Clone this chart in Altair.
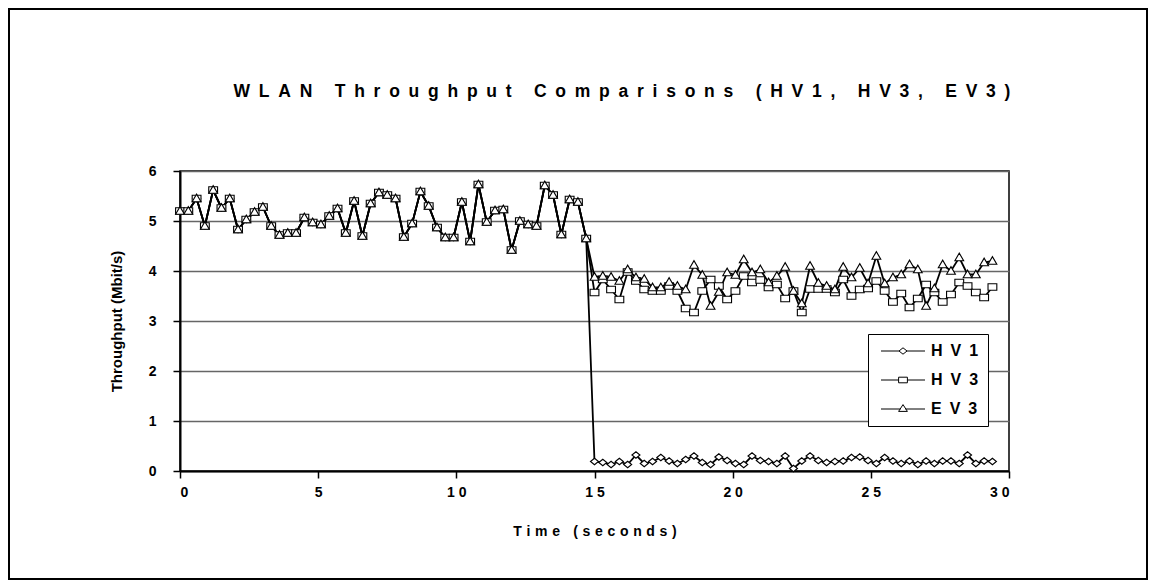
import altair as alt
import pandas as pd

# ---------------- data ----------------
STEP_S = 0.3
SERIES = ["H V 1", "H V 3", "E V 3"]

# first 50 samples (0.0 s .. 14.7 s): the three series coincide
SHARED_FIRST = [5.2, 5.2, 5.45, 4.9, 5.62, 5.26, 5.45, 4.83, 5.03, 5.18,
                5.28, 4.9, 4.72, 4.76, 4.76, 5.07, 4.97, 4.93, 5.1, 5.25,
                4.76, 5.4, 4.7, 5.35, 5.57, 5.52, 5.45, 4.68, 4.95, 5.59,
                5.3, 4.87, 4.67, 4.67, 5.38, 4.59, 5.73, 4.98, 5.21, 5.23,
                4.42, 5.0, 4.93, 4.9, 5.71, 5.52, 4.73, 5.43, 5.38, 4.65]

# samples 15.0 s .. 29.4 s
HV1_TAIL = [0.19, 0.17, 0.13, 0.19, 0.13, 0.32, 0.15, 0.19, 0.27, 0.2,
            0.15, 0.23, 0.3, 0.17, 0.13, 0.28, 0.21, 0.15, 0.13, 0.3,
            0.21, 0.19, 0.15, 0.3, 0.05, 0.2, 0.3, 0.21, 0.17, 0.19,
            0.2, 0.27, 0.28, 0.21, 0.15, 0.27, 0.2, 0.15, 0.2, 0.13,
            0.2, 0.15, 0.2, 0.2, 0.15, 0.32, 0.15, 0.2, 0.19]
HV3_TAIL = [3.57, 3.83, 3.63, 3.43, 3.98, 3.8, 3.63, 3.6, 3.6, 3.7,
            3.6, 3.25, 3.17, 3.6, 3.83, 3.7, 3.43, 3.6, 3.9, 3.77,
            3.82, 3.67, 3.73, 3.45, 3.6, 3.17, 3.64, 3.64, 3.64, 3.57,
            3.83, 3.5, 3.63, 3.65, 3.8, 3.6, 3.38, 3.55, 3.27, 3.45,
            3.73, 3.57, 3.38, 3.53, 3.77, 3.7, 3.57, 3.47, 3.68]
EV3_TAIL = [3.88, 3.9, 3.88, 3.8, 4.03, 3.87, 3.84, 3.67, 3.67, 3.78,
            3.7, 3.63, 4.12, 3.92, 3.3, 3.58, 3.97, 3.92, 4.23, 3.97,
            4.03, 3.77, 3.9, 4.08, 3.6, 3.35, 4.1, 3.76, 3.7, 3.63,
            4.08, 3.87, 4.06, 3.75, 4.3, 3.75, 3.87, 3.93, 4.13, 4.03,
            3.3, 3.65, 4.13, 4.0, 4.27, 3.93, 3.93, 4.17, 4.2]

X_TICKS = [0, 5, 10, 15, 20, 25, 30]
X_TICK_LABELS = ["0", "5", "1 0", "1 5", "2 0", "2 5", "3 0"]
Y_TICKS = [0, 1, 2, 3, 4, 5, 6]

TITLE = "WLAN Throughput Comparisons (HV1, HV3, EV3)"
X_TITLE = "Time (seconds)"
Y_TITLE = "Throughput (Mbit/s)"

EN = "\u2002"      # en space
TPM = "\u2004"     # three-per-em space
NB = "\u00a0"


def spaced(s, gap, word_gap):
    return word_gap.join(gap.join(w) for w in s.split(" "))


rows = []
for name, tail in zip(SERIES, [HV1_TAIL, HV3_TAIL, EV3_TAIL]):
    vals = SHARED_FIRST + tail
    for i, v in enumerate(vals):
        rows.append({"series": name, "t": round(i * STEP_S, 1), "v": v,
                     "order": SERIES.index(name)})
df = pd.DataFrame(rows)

FONT = "Liberation Sans"

label_expr = " : ".join(
    f"datum.value == {v} ? '{l}'" for v, l in zip(X_TICKS, X_TICK_LABELS)
) + " : datum.label"

x_enc = alt.X("t:Q", scale=alt.Scale(domain=[0, 30], nice=False),
              axis=alt.Axis(values=X_TICKS, labelExpr=label_expr,
                            title=spaced(X_TITLE, TPM, TPM + NB + TPM), grid=False,
                            labelFont=FONT, labelFontSize=14, labelFontWeight="bold",
                            labelColor="black", tickColor="black", tickSize=7,
                            tickWidth=1.5, domainColor="black", domainWidth=2,
                            labelPadding=7, titleFont=FONT, titleFontSize=14,
                            titleFontWeight="bold", titleColor="black",
                            titlePadding=25))
y_enc = alt.Y("v:Q", scale=alt.Scale(domain=[0, 6], nice=False),
              axis=alt.Axis(values=Y_TICKS, title=Y_TITLE, grid=True,
                            gridColor="#666666", gridWidth=1.3,
                            labelFont=FONT, labelFontSize=14, labelFontWeight="bold",
                            labelColor="black", tickColor="black", tickSize=7,
                            tickWidth=1.5, domainColor="black", domainWidth=2,
                            labelPadding=17, titleFont=FONT, titleFontSize=15,
                            titleFontWeight="bold", titleColor="black",
                            titlePadding=24))

MARK_PATHS = ["M-1,0L0,-0.8L1,0L0,0.8Z",
              "M-1.1,-0.8L1.1,-0.8L1.1,0.8L-1.1,0.8Z",
              "M-1.1,0.8L0,-1.1L1.1,0.8Z"]
LEGEND_PATHS = ["M-5.5,0L-1,0M1,0L5.5,0M-1,0L0,-0.8L1,0L0,0.8Z",
                "M-5.5,0L-1.1,0M1.1,0L5.5,0M-1.1,-0.7L1.1,-0.7L1.1,0.7L-1.1,0.7Z",
                "M-5.5,0L-0.6,0M0.6,0L5.5,0M-1.1,0.6L0,-1.1L1.1,0.6Z"]

base = alt.Chart(df)

lines = base.mark_line(color="black", strokeWidth=1.8).encode(
    x=x_enc, y=y_enc, detail="series:N", order="t:Q")

points = base.mark_point(size=64, fill="white", fillOpacity=1, stroke="black",
                         strokeWidth=1.1, opacity=1).encode(
    x=x_enc, y=y_enc,
    shape=alt.Shape("series:N", scale=alt.Scale(domain=SERIES, range=MARK_PATHS),
                    legend=None),
    order="order:Q")

legend_layer = base.mark_point(size=64, opacity=0).encode(
    x=x_enc, y=y_enc,
    shape=alt.Shape("series:N", scale=alt.Scale(domain=SERIES, range=LEGEND_PATHS),
                    legend=alt.Legend(title=None, orient="none", legendX=688,
                                      legendY=163, padding=9,
                                      strokeColor="black", fillColor="white",
                                      labelFont=FONT, labelFontSize=16,
                                      labelFontWeight="bold", labelColor="black",
                                      labelExpr="replace(datum.label, / /g, '" + EN + "')",
                                      symbolSize=64, symbolOpacity=1,
                                      symbolFillColor="white",
                                      symbolStrokeColor="black",
                                      symbolStrokeWidth=1,
                                      symbolOffset=18, labelOffset=20,
                                      rowPadding=13)))

one = alt.Data(values=[{"k": 1}])
title_mark = alt.Chart(one).mark_text(
    text=spaced(TITLE, EN, EN + EN + NB), font=FONT, fontSize=17.5, fontWeight="bold",
    color="black", align="center", baseline="middle").encode(
    x=alt.value(442), y=alt.value(-79))

frame = alt.Chart(one).mark_rect(fillOpacity=0, stroke="black", strokeWidth=2).encode(
    x=alt.value(-171), x2=alt.value(967), y=alt.value(-162), y2=alt.value(408))

chart = alt.layer(lines, points, legend_layer, title_mark, frame).resolve_scale(
    shape="independent"
).properties(
    width=829, height=300,
    autosize=alt.AutoSizeParams(type="none"),
    padding={"left": 172, "top": 163, "right": 139, "bottom": 109},
    background="white",
).configure_view(stroke="black", strokeWidth=1.5)

chart.save("out.html", embed_options={"renderer": "svg", "actions": False})
